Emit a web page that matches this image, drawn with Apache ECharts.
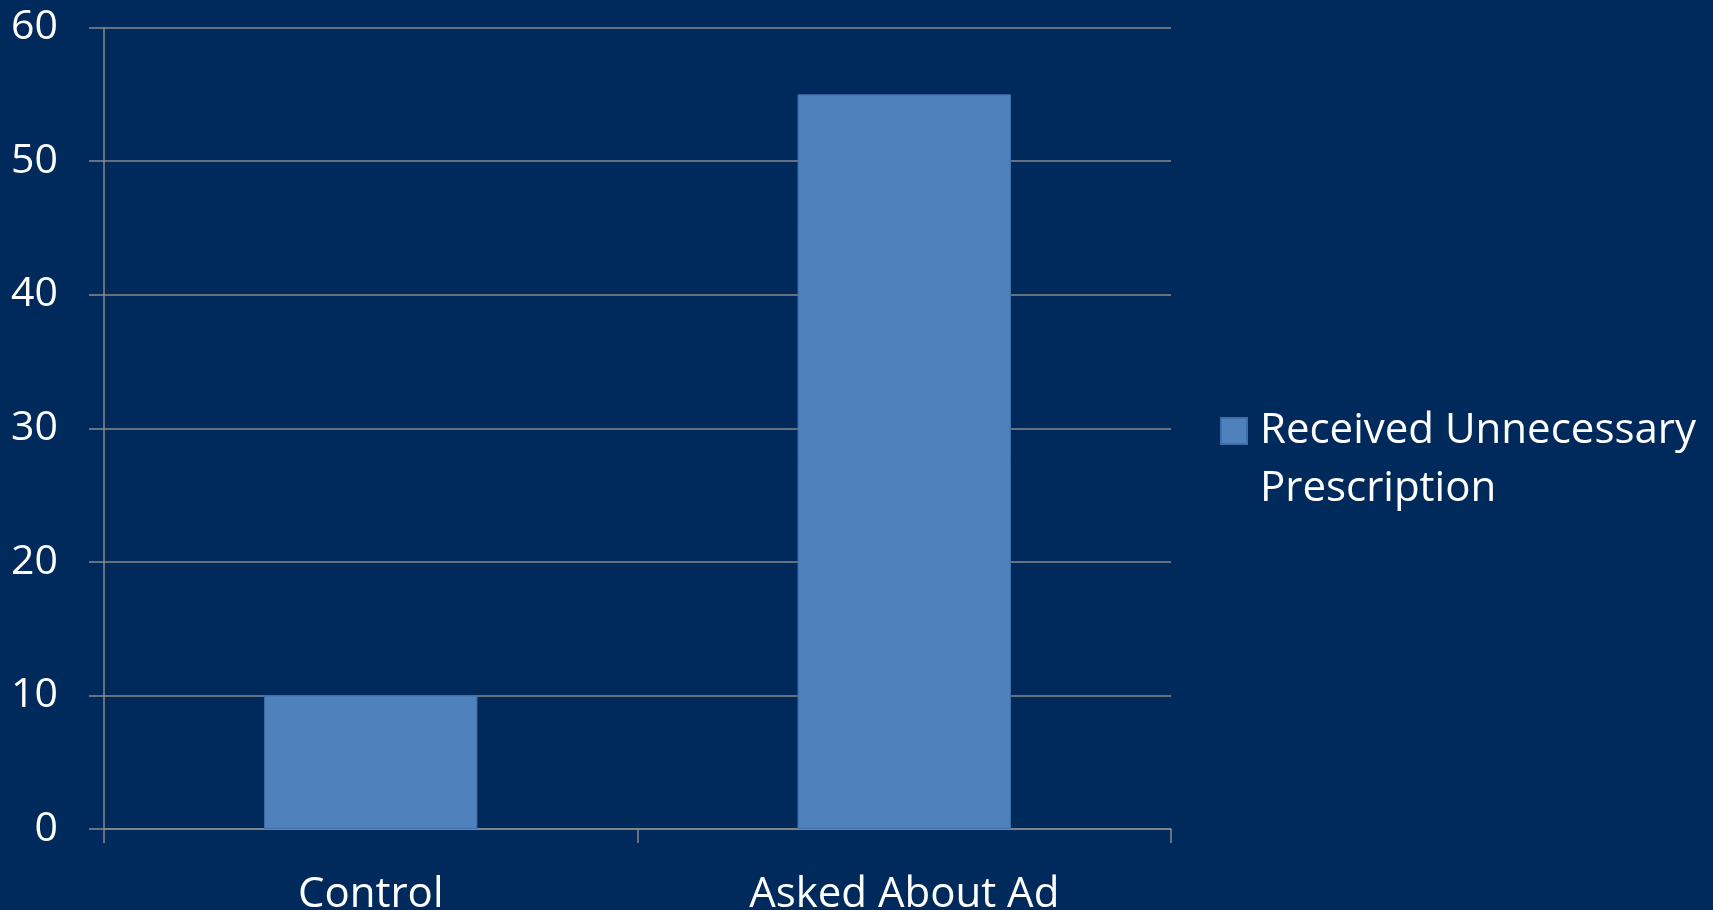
<!DOCTYPE html>
<html>
<head>
<meta charset="utf-8">
<script src="https://cdn.jsdelivr.net/npm/echarts@6/dist/echarts.min.js"></script>
<style>
  html, body { margin: 0; padding: 0; background: #002a5c; }
  #chart { width: 1713px; height: 910px; }
</style>
</head>
<body>
<div id="chart"></div>
<script>
var categories = ['Control', 'Asked About Ad']
var seriesName = 'Received Unnecessary Prescription'
var values = [10, 55]

var myChart = echarts.init(document.getElementById('chart'), null, { renderer: 'canvas' })
var gridColor = '#8a8a8a'
var font = 'Open Sans'

var option = {
  backgroundColor: '#002a5c',
  animation: false,
  grid: {
    left: 104,
    right: 542,
    top: 27.5,
    bottom: 81,
    outerBoundsMode: 'none'
  },
  legend: {
    left: 1220,
    top: 344,
    padding: 0,
    itemWidth: 26,
    itemHeight: 26,
    icon: 'rect',
    // blank first line pushes the text down so the icon sits by the first line
    formatter: function() {
      return '\nReceived Unnecessary\nPrescription'
    },
    textStyle: {
      color: '#ffffff',
      fontFamily: font,
      fontSize: 42,
      lineHeight: 58,
      padding: [0, 0, 0, 8]
    },
    data: [seriesName]
  },
  xAxis: {
    type: 'category',
    data: categories,
    boundaryGap: true,
    axisLine: { show: true, lineStyle: { color: gridColor, width: 1.5 } },
    axisTick: { show: true, length: 14, alignWithLabel: false, lineStyle: { color: gridColor, width: 1.5 } },
    axisLabel: {
      color: '#ffffff',
      fontFamily: font,
      fontSize: 42,
      margin: 45
    }
  },
  yAxis: {
    type: 'value',
    min: 0,
    max: 60,
    interval: 10,
    axisLine: { show: true, lineStyle: { color: gridColor, width: 1.5 } },
    axisTick: { show: true, length: 15, lineStyle: { color: gridColor, width: 1.5 } },
    splitLine: { show: true, lineStyle: { color: gridColor, width: 1.5 } },
    axisLabel: {
      color: '#ffffff',
      fontFamily: font,
      fontSize: 41,
      margin: 46
    }
  },
  series: [
    {
      name: seriesName,
      type: 'bar',
      data: values,
      barWidth: '40%',
      itemStyle: {
        color: '#4f81bd',
        borderColor: '#3f6ea8',
        borderWidth: 1
      }
    }
  ]
}

option && myChart.setOption(option)
</script>
</body>
</html>
